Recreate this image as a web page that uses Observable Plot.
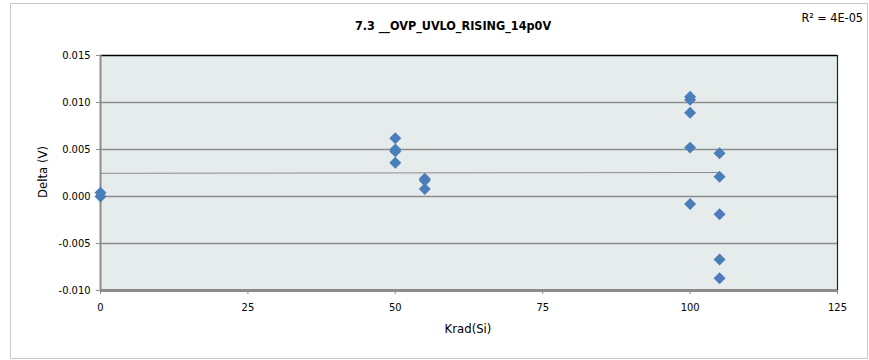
<!DOCTYPE html>
<html><head><meta charset="utf-8">
<script src="https://cdn.jsdelivr.net/npm/d3@7"></script>
<script src="https://cdn.jsdelivr.net/npm/@observablehq/plot@0.6"></script>
<style>
body{margin:0;background:#fff;}
#wrap{position:relative;width:869px;height:360px;font-family:"Liberation Sans Narrow","DejaVu Sans Condensed","Open Sans",sans-serif;color:#000;}
#border{position:absolute;left:10px;top:3px;width:858px;height:356px;border:1px solid #c8c8c8;box-sizing:border-box;}
#chart{position:absolute;left:0;top:0;}
.t{position:absolute;white-space:nowrap;}
#title{left:453px;top:25px;font-size:12.5px;font-weight:bold;transform:translate(-50%,-50%);}
#r2{right:6px;top:10px;font-size:12.5px;}
#ylab{left:42px;top:172px;font-size:13px;transform:translate(-50%,-50%) rotate(-90deg);}
#xlab{left:468px;top:328px;font-size:13px;transform:translate(-50%,-50%);}
</style></head>
<body>
<div id="wrap">
  <div id="border"></div>
  <div id="chart"></div>
  <div class="t" id="title">7.3 __OVP_UVLO_RISING_14p0V</div>
  <div class="t" id="r2">R² = 4E-05</div>
  <div class="t" id="ylab">Delta (V)</div>
  <div class="t" id="xlab">Krad(Si)</div>
</div>
<script>
const krad  = [0, 0, 50, 50, 50, 50, 55, 55, 55, 100, 100, 100, 100, 100, 105, 105, 105, 105, 105];
const delta = [0.0004, 0.0000, 0.0062, 0.0050, 0.0048, 0.0036, 0.0019, 0.0017, 0.0008,
               0.0106, 0.0103, 0.0089, 0.0052, -0.0008, 0.0046, 0.0021, -0.0019, -0.0067, -0.0087];
const xTicks = [0, 25, 50, 75, 100, 125];
const yTicks = [-0.010, -0.005, 0.000, 0.005, 0.010, 0.015];
const title = "7.3 __OVP_UVLO_RISING_14p0V";

const data = krad.map((k, i) => ({x: k, y: delta[i]}));
const fmt = d => (Math.abs(d) < 1e-9 ? 0 : d).toFixed(3);
const font = '"Liberation Sans Narrow","DejaVu Sans Condensed",sans-serif';

const plot = Plot.plot({
  width: 869, height: 360,
  marginLeft: 100, marginRight: 32, marginTop: 55, marginBottom: 70,
  style: {fontFamily: font, fontSize: "11px", color: "#000", background: "transparent"},
  x: {domain: [0, 125]},
  y: {domain: [-0.010, 0.015]},
  marks: [
    Plot.frame({fill: "#e6ecec", stroke: null}),
    Plot.ruleY(yTicks.slice(1, -1), {stroke: "#8c8c8c", strokeWidth: 1.3}),
    Plot.ruleY([0.015], {stroke: "#000", strokeWidth: 1.5}),
    Plot.ruleX([125], {stroke: "#222", strokeWidth: 1.2}),
    Plot.ruleX([0], {stroke: "#8c8c8c", strokeWidth: 2}),
    Plot.ruleY([-0.010], {stroke: "#8c8c8c", strokeWidth: 3}),
    Plot.axisX({ticks: xTicks, tickFormat: d => String(d), tickSize: 4, tickPadding: 9, label: null, stroke: "#8c8c8c", fontSize: 11}),
    Plot.axisY({ticks: yTicks, tickFormat: fmt, tickSize: 4, tickPadding: 6, label: null, stroke: "#8c8c8c", fontSize: 11}),
    Plot.linearRegressionY(data, {x: "x", y: "y", ci: 0, stroke: "#8c8c8c", strokeWidth: 1}),
    Plot.dot(data, {x: "x", y: "y", symbol: "diamond2", fill: "#4a7ebb", stroke: "none", r: 5.4})
  ]
});
document.getElementById("chart").appendChild(plot);
</script>
</body></html>
